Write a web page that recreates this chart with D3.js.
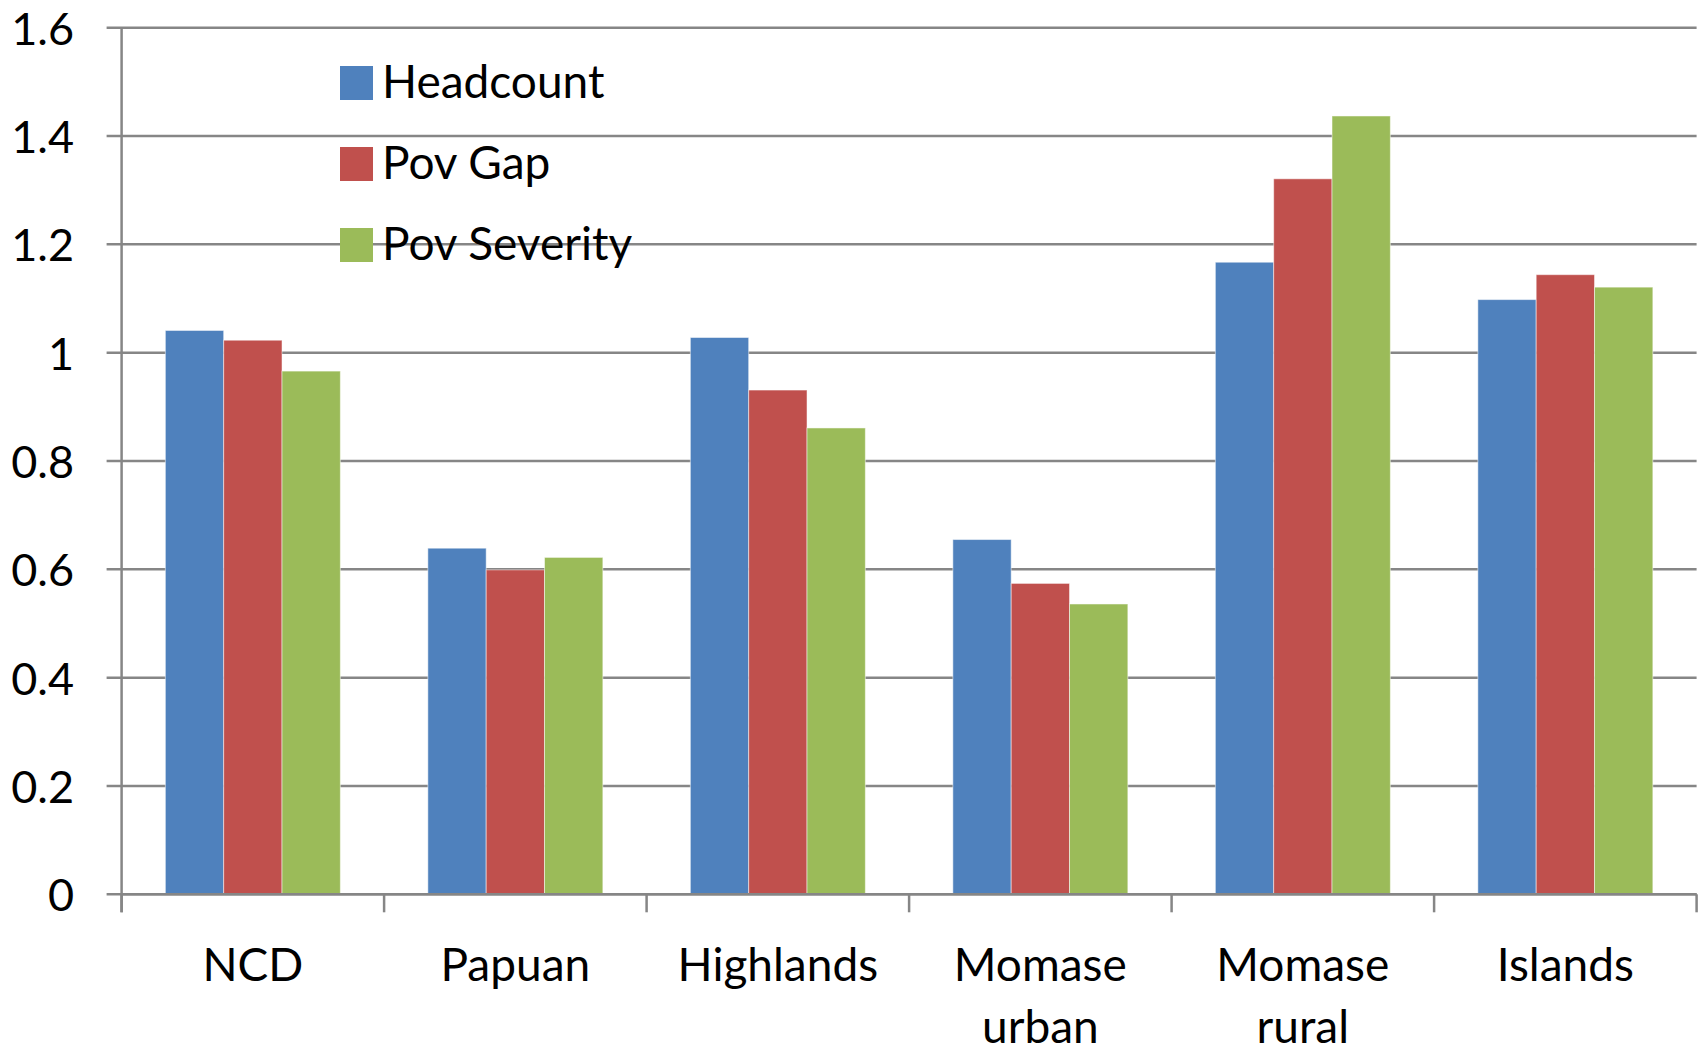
<!DOCTYPE html>
<html><head><meta charset="utf-8">
<script src="https://cdn.jsdelivr.net/npm/d3@7"></script>
<style>body{margin:0;background:#fff}svg{display:block}text{font-family:Lato,"Open Sans",sans-serif;fill:#000}</style>
</head><body><svg id="c" width="1703" height="1047"></svg>
<script>
const categories = ["NCD","Papuan","Highlands","Momase urban","Momase rural","Islands"];
const series = ["Headcount","Pov Gap","Pov Severity"];
const headcount = [1.041,0.639,1.028,0.655,1.167,1.098];
const povGap = [1.023,0.599,0.931,0.574,1.321,1.144];
const povSeverity = [0.966,0.622,0.861,0.536,1.437,1.121];
const yTicks = [0,0.2,0.4,0.6,0.8,1,1.2,1.4,1.6];
const colors = ["#4F81BD","#C0504D","#9BBB59"];

(function(){
const values = [headcount, povGap, povSeverity];
const svg = d3.select("#c");
const mLeft = 121.6, mRight = 1696.6, mTop = 27.7, mBottom = 894.3;
const x0 = d3.scaleBand().domain(categories).range([mLeft, mRight]).padding(0);
const x1 = d3.scaleBand().domain(series).range([0, x0.bandwidth()]).paddingInner(0).paddingOuter(0.75);
const y = d3.scaleLinear().domain([0,1.6]).range([mBottom, mTop]);
const grid = "#868686";

svg.append("g").selectAll("line").data(yTicks).join("line")
  .attr("x1", mLeft-15).attr("x2", mRight).attr("y1", d=>y(d)).attr("y2", d=>y(d))
  .attr("stroke", grid).attr("stroke-width", 2.5);

svg.append("g").selectAll("text").data(yTicks).join("text")
  .attr("x", 74).attr("y", d=>y(d)).attr("text-anchor","end").attr("dominant-baseline","central")
  .attr("font-size", 45).text(d=>d);

const g = svg.append("g");
series.forEach((s,i)=>{
  g.selectAll(null).data(categories).join("rect")
    .attr("x", c=>x0(c)+x1(s)).attr("width", x1.bandwidth())
    .attr("y", (c,j)=>y(values[i][j])).attr("height", (c,j)=>y(0)-y(values[i][j]))
    .attr("fill", colors[i]).attr("stroke","rgba(255,255,255,0.5)").attr("stroke-width",1);
});

svg.append("line").attr("x1",mLeft).attr("x2",mLeft).attr("y1",mTop).attr("y2",mBottom+18)
  .attr("stroke",grid).attr("stroke-width",2.5);
svg.append("line").attr("x1",mLeft).attr("x2",mRight).attr("y1",mBottom).attr("y2",mBottom)
  .attr("stroke",grid).attr("stroke-width",2.5);
const xt = categories.map(c=>x0(c)).concat([mRight]);
svg.append("g").selectAll("line").data(xt).join("line")
  .attr("x1",d=>d).attr("x2",d=>d).attr("y1",mBottom).attr("y2",mBottom+18)
  .attr("stroke",grid).attr("stroke-width",2.5);

const xl = svg.append("g").selectAll("text").data(categories).join("text")
  .attr("text-anchor","middle").attr("font-size",46)
  .attr("x", c=>x0(c)+x0.bandwidth()/2).attr("y", 981);
xl.each(function(c){
  const parts = c.split(" ");
  const t = d3.select(this);
  parts.forEach((p,k)=>t.append("tspan").attr("x", x0(c)+x0.bandwidth()/2).attr("dy", k===0?0:62).text(p));
});

const lg = svg.append("g").selectAll("g").data(series).join("g")
  .attr("transform",(d,i)=>`translate(340,${66+i*81})`);
lg.append("rect").attr("width",33).attr("height",34).attr("fill",(d,i)=>colors[i]);
lg.append("text").attr("x",42).attr("y",32).attr("font-size",46).text(d=>d);
})();
</script></body></html>
